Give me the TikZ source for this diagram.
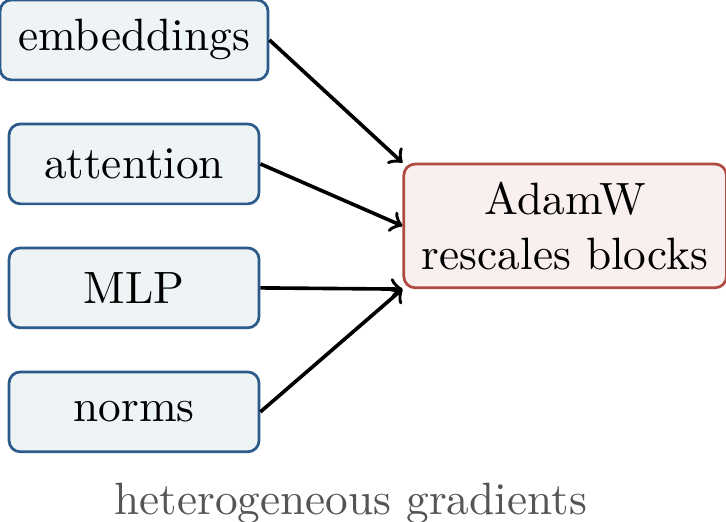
\documentclass[tikz,border=0pt]{standalone}
\usepackage{xcolor}
\definecolor{blockline}{HTML}{2C5A8A}
\definecolor{blockbg}{HTML}{EEF3F6}
\definecolor{optline}{HTML}{B04A40}
\definecolor{optbg}{HTML}{F8EFEE}
\definecolor{capgray}{HTML}{555555}
\usepackage{tikz}
\usetikzlibrary{positioning}

\begin{document}
\begin{tikzpicture}[
  blk/.style={draw=blockline, fill=blockbg, rounded corners=2.5pt, semithick,
              minimum width=1.94cm, minimum height=0.62cm, inner sep=4pt, align=center},
  opt/.style={draw=optline, fill=optbg, rounded corners=2.5pt, semithick,
              minimum height=0.96cm, inner sep=4pt, align=center},
  grad/.style={->, black, thick}
]
  \useasboundingbox (-1.04,-3.739) rectangle (4.593,0.31);

  \node[blk] (emb)  at (0, 0)      {embeddings};
  \node[blk] (attn) at (0,-0.962)  {attention};
  \node[blk] (mlp)  at (0,-1.924)  {MLP};
  \node[blk] (norm) at (0,-2.886)  {norms};

  \node[opt] (adamw) at (3.345,-1.443) {AdamW\\rescales blocks};

  \draw[grad] (emb.east)  -- (adamw.north west);
  \draw[grad] (attn.east) -- (adamw.west);
  \draw[grad] (mlp.east)  -- (adamw.south west);
  \draw[grad] (norm.east) -- (adamw.south west);

  \node[text=capgray] (cap) at (1.68,-3.60) {heterogeneous gradients};
\end{tikzpicture}
\end{document}
